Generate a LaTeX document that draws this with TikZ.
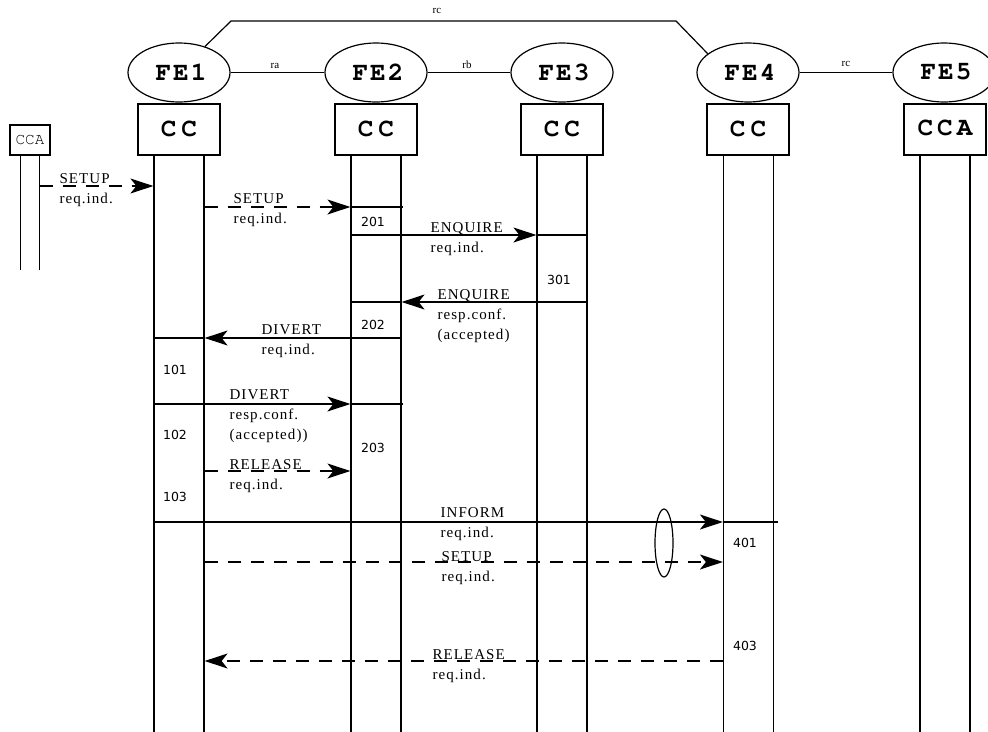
\documentclass[tikz,border=0pt]{standalone}
\usepackage[T1]{fontenc}
\usepackage{fontspec}
\setmainfont{Liberation Serif}
\newfontfamily\numfont{DejaVu Sans}
\newfontfamily\lblfont{Liberation Serif}[LetterSpace=7]
\newcommand{\courb}{\fontencoding{T1}\fontfamily{pcr}\fontseries{b}\fontsize{26}{26}\selectfont}
\newcommand{\courm}{\fontencoding{T1}\fontfamily{pcr}\fontseries{m}\fontsize{16}{16}\selectfont}
\usetikzlibrary{arrows.meta,shapes.geometric}
\begin{document}
\begin{tikzpicture}[x=1pt,y=-1pt,line width=1.2pt,
  fe/.style={draw,ellipse,minimum width=102pt,minimum height=59pt,inner sep=0pt,font=\courb},
  ccbox/.style={draw,rectangle,minimum width=82pt,minimum height=51pt,inner sep=0pt,font=\courb},
  life/.style={draw,rectangle,minimum width=50pt,minimum height=578pt,anchor=north,inner sep=0pt},
  lbl/.style={anchor=north west,inner sep=0pt,align=left,font=\lblfont\fontsize{15}{20}\selectfont},
  num/.style={inner sep=0pt,font=\numfont\fontsize{12.5}{12.5}\selectfont},
  rl/.style={inner sep=0pt,font=\fontsize{11}{11}\selectfont},
  arr/.style={-{Stealth[length=23pt,width=15pt,inset=6pt]}},
  dsh/.style={dash pattern=on 13pt off 10pt},
]
\useasboundingbox (0,0) rectangle (988,731);

% functional entities
\node[fe] (fe1) at (179,72.5) {\kern4pt F\kern2pt E\kern2pt 1};
\node[fe] (fe2) at (376,72.5) {\kern4pt F\kern2pt E\kern2pt 2};
\node[fe] (fe3) at (562,72.5) {\kern4pt F\kern2pt E\kern2pt 3};
\node[fe] (fe4) at (748,72.5) {\kern4pt F\kern2pt E\kern2pt 4};
\node[fe] (fe5) at (944,72.5) {\kern4pt F\kern2pt E\kern2pt 5};

% relationships
\coordinate (rcA) at (231,21);
\coordinate (rcB) at (676,21);
\draw (fe1.45) -- (rcA) -- (rcB) -- (fe4.155);
\draw (fe1) -- (fe2);
\draw (fe2) -- (fe3);
\draw (fe4) -- (fe5);
\node[rl] (lrc) at (437,11) {rc};
\node[rl] (lra) at (275,66) {ra};
\node[rl] (lrb) at (467,65) {rb};
\node[rl] (lrc2) at (846,64) {rc};

% CC boxes
\node[ccbox] (cc1) at (179,129.5) {C\kern5pt C};
\node[ccbox] (cc2) at (376,129.5) {C\kern5pt C};
\node[ccbox] (cc3) at (562,129.5) {\raisebox{-2pt}{C\kern5pt C}};
\node[ccbox] (cc4) at (748,129.5) {C\kern5pt C};
\node[ccbox] (cc5) at (945,129.5) {\raisebox{3pt}{C\kern4pt C\kern4pt A}};

% lifelines
\node[life] (L1) at (179,155) {};
\node[life] (L2) at (376,155) {};
\node[life] (L3) at (562,155) {};
\node[life] (L4) at (748.5,155) {};
\node[life] (L5) at (945,155) {};

% left CCA
\node[draw,rectangle,minimum width=40pt,minimum height=30pt,inner sep=0pt,font=\courm] (cca) at (30,140) {CCA};
\node[rectangle,minimum width=18pt,minimum height=114pt,anchor=north,inner sep=0pt] (LA) at (30,155) {};
\draw (LA.north west) -- (LA.south west);
\draw (LA.north east) -- (LA.south east);

% M1 SETUP CCA -> FE1
\draw[dsh,arr] (LA.east |- 0,186) -- (L1.west |- 0,186);
\node[lbl] (t1) at (59,173) {SETUP\\req.ind.};

% M2 SETUP FE1 -> FE2
\draw[dsh,arr] (L1.east |- 0,207) -- (L2.west |- 0,207);
\draw (L2.west |- 0,207) -- ([xshift=1pt]L2.east |- 0,207);
\node[lbl] (t2) at (233,193) {SETUP\\req.ind.};

% M3 ENQUIRE FE2 -> FE3
\draw (L2.west |- 0,235) -- (L2.east |- 0,235);
\draw[arr] (L2.east |- 0,235) -- (L3.west |- 0,235);
\draw (L3.west |- 0,235) -- (L3.east |- 0,235);
\node[lbl] (t3) at (430,222) {ENQUIRE\\req.ind.};

% M4 ENQUIRE resp FE3 -> FE2
\draw (L3.east |- 0,302) -- (L3.west |- 0,302);
\draw[arr] (L3.west |- 0,302) -- (L2.east |- 0,302);
\draw (L2.east |- 0,302) -- (L2.west |- 0,302);
\node[lbl] (t4) at (437,289) {ENQUIRE\\resp.conf.\\(accepted)};

% M5 DIVERT FE2 -> FE1
\draw (L2.east |- 0,338) -- (L2.west |- 0,338);
\draw[arr] (L2.west |- 0,338) -- (L1.east |- 0,338);
\draw (L1.east |- 0,338) -- (L1.west |- 0,338);
\node[lbl] (t5) at (261,324) {DIVERT\\req.ind.};

% M6 DIVERT resp FE1 -> FE2
\draw (L1.west |- 0,404) -- (L1.east |- 0,404);
\draw[arr] (L1.east |- 0,404) -- (L2.west |- 0,404);
\draw (L2.west |- 0,404) -- ([xshift=1pt]L2.east |- 0,404);
\node[lbl] (t6) at (229,389) {DIVERT\\resp.conf.\\(accepted))};

% M7 RELEASE FE1 -> FE2
\draw[dsh,arr] (L1.east |- 0,471) -- (L2.west |- 0,471);
\node[lbl] (t7) at (229,459) {RELEASE\\req.ind.};

% M8 INFORM FE1 -> FE4
\draw (L1.west |- 0,522) -- (L1.east |- 0,522);
\draw[arr] (L1.east |- 0,522) -- (L4.west |- 0,522);
\draw (L4.west |- 0,522) -- ([xshift=4pt]L4.east |- 0,522);
\node[lbl] (t8) at (440,507) {INFORM\\req.ind.};

% M9 SETUP FE1 -> FE4
\draw[dsh,arr] (L1.east |- 0,562) -- (L4.west |- 0,562);
\node[lbl] (t9) at (441,551) {SETUP\\req.ind.};

% grouping ellipse
\node[draw,ellipse,minimum width=18pt,minimum height=68pt,inner sep=0pt] (grp) at (664,543) {};

% M10 RELEASE FE4 -> FE1
\draw[dsh,arr] (L4.west |- 0,661) -- (L1.east |- 0,661);
\node[lbl] (t10) at (432,649) {RELEASE\\req.ind.};

% state numbers
\node[num] (n101) at (175,370) {101};
\node[num] (n102) at (175,435) {102};
\node[num] (n103) at (175,497) {103};
\node[num] (n201) at (373,222) {201};
\node[num] (n202) at (373,325) {202};
\node[num] (n203) at (373,448) {203};
\node[num] (n301) at (559,280) {301};
\node[num] (n401) at (745,543) {401};
\node[num] (n403) at (745,646) {403};
\end{tikzpicture}
\end{document}
